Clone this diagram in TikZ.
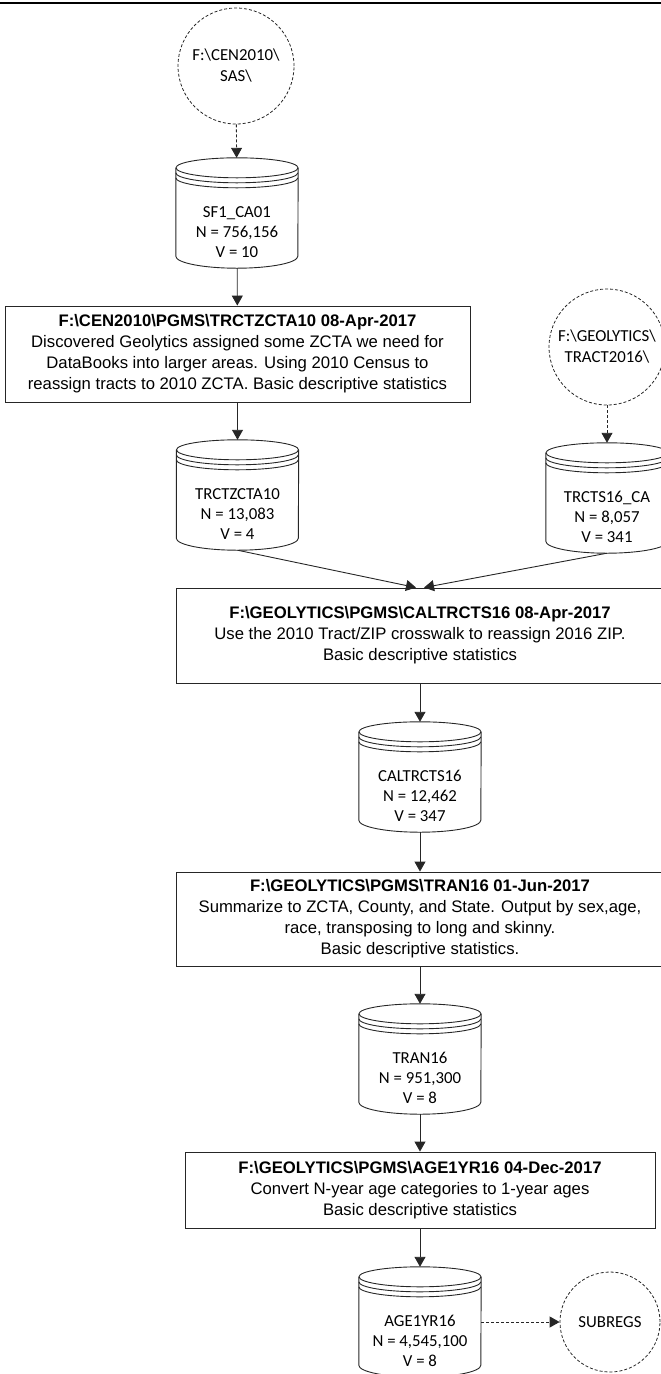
\documentclass[tikz,border=0pt]{standalone}
\usepackage{fontspec}
\setmainfont{Carlito}
\newfontfamily\boxfont{Liberation Sans}
\usetikzlibrary{arrows.meta,calc}

% draws a stacked-disk data set outline around a node
\newcommand\dbshape[1]{%
  \draw[line] ($(#1.north)+(0,10)$) ellipse[x radius=61pt,y radius=10pt];
  \draw[line] ($(#1.north west)+(0,15)$) arc[start angle=180,end angle=360,x radius=61pt,y radius=10pt];
  \draw[line] ($(#1.north west)+(0,20)$) arc[start angle=180,end angle=360,x radius=61pt,y radius=10pt];
  \draw[line] ($(#1.north west)+(0,10)$) -- ($(#1.south west)+(0,-12)$)
     arc[start angle=180,end angle=360,x radius=61pt,y radius=12pt]
     -- ($(#1.north east)+(0,10)$);
}

\begin{document}
\begin{tikzpicture}[x=1pt,y=-1pt,
  line/.style={line width=0.9pt,draw=black!85},
  flow/.style={line,-{Triangle[length=10pt,width=11pt]}},
  dflow/.style={flow,dash pattern=on 3pt off 2pt},
  db/.style={minimum width=122pt,minimum height=110pt,inner sep=0pt},
  dbtext/.style={yshift=-19pt,align=center,font=\fontsize{16.8}{20}\selectfont},
  src/.style={circle,draw=black!85,line width=0.8pt,dash pattern=on 3pt off 2pt,
    minimum size=116pt,inner sep=0pt,align=center,font=\fontsize{16.8}{21}\selectfont},
  pgm/.style={rectangle,line,inner sep=0pt,align=center,
    font=\boxfont\fontsize{16.7}{21}\selectfont},
]
\useasboundingbox (0,0) rectangle (661,1374);

% rule across the top
\draw[line width=2.5pt] (0,3) -- (661,3);

% sources
\node[src] (s1) at (236,66) {F:\textbackslash CEN2010\textbackslash\\SAS\textbackslash};
\node[src] (s2) at (607,347) {F:\textbackslash GEOLYTICS\textbackslash\\TRACT2016\textbackslash};
\node[src,minimum size=100pt] (sub) at (610,1322) {SUBREGS};

% data sets
\node[db,label={[name=c1t,dbtext]center:SF1\_CA01\\N = 756,156\\V = 10}] (c1) at (237,213) {};
\node[db,label={[name=c2t,dbtext]center:TRCTZCTA10\\N = 13,083\\V = 4}] (c2) at (237.5,495) {};
\node[db,label={[name=c3t,dbtext]center:TRCTS16\_CA\\N = 8,057\\V = 341}] (c3) at (607,498) {};
\node[db,label={[name=c4t,dbtext]center:CALTRCTS16\\N = 12,462\\V = 347}] (c4) at (420,777) {};
\node[db,label={[name=c5t,dbtext]center:TRAN16\\N = 951,300\\V = 8}] (c5) at (420,1059) {};
\node[db,label={[name=c6t,dbtext]center:AGE1YR16\\N = 4,545,100\\V = 8}] (c6) at (420,1322) {};
\foreach \n in {c1,c2,c3,c4,c5,c6} {\dbshape{\n}}

% programs
\node[pgm,minimum width=465pt,minimum height=96pt] (b1) at (237.5,354)
  {\textbf{F:\textbackslash CEN2010\textbackslash PGMS\textbackslash TRCTZCTA10 08-Apr-2017}\\
   Discovered Geolytics assigned some ZCTA we need for\\
   DataBooks into larger areas. Using 2010 Census to\\
   reassign tracts to 2010 ZCTA. Basic descriptive statistics};
\node[pgm,minimum width=488pt,minimum height=95pt] (b2) at (420,635.5)
  {\textbf{F:\textbackslash GEOLYTICS\textbackslash PGMS\textbackslash CALTRCTS16 08-Apr-2017}\\
   Use the 2010 Tract/ZIP crosswalk to reassign 2016 ZIP.\\
   Basic descriptive statistics};
\node[pgm,minimum width=488pt,minimum height=94pt] (b3) at (420,919)
  {\textbf{F:\textbackslash GEOLYTICS\textbackslash PGMS\textbackslash TRAN16 01-Jun-2017}\\
   Summarize to ZCTA, County, and State. Output by sex,age,\\
   race, transposing to long and skinny.\\
   Basic descriptive statistics.};
\node[pgm,minimum width=470pt,minimum height=76pt] (b4) at (420,1190)
  {\textbf{F:\textbackslash GEOLYTICS\textbackslash PGMS\textbackslash AGE1YR16 04-Dec-2017}\\
   Convert N-year age categories to 1-year ages\\
   Basic descriptive statistics};

% connectors
\draw[dflow] (s1) -- (c1);
\draw[flow] (c1) -- (b1);
\draw[flow] (b1.south -| c2) -- (c2);
\draw[dflow] (s2) -- (c3);
\draw[flow] (c2.south) -- ($(b2.north)+(-4,0)$);
\draw[flow] (c3.south) -- ($(b2.north)+(4,0)$);
\draw[flow] (b2) -- (c4);
\draw[flow] (c4) -- (b3);
\draw[flow] (b3) -- (c5);
\draw[flow] (c5) -- (b4);
\draw[flow] (b4) -- (c6);
\draw[dflow] (c6) -- (sub);
\end{tikzpicture}
\end{document}
